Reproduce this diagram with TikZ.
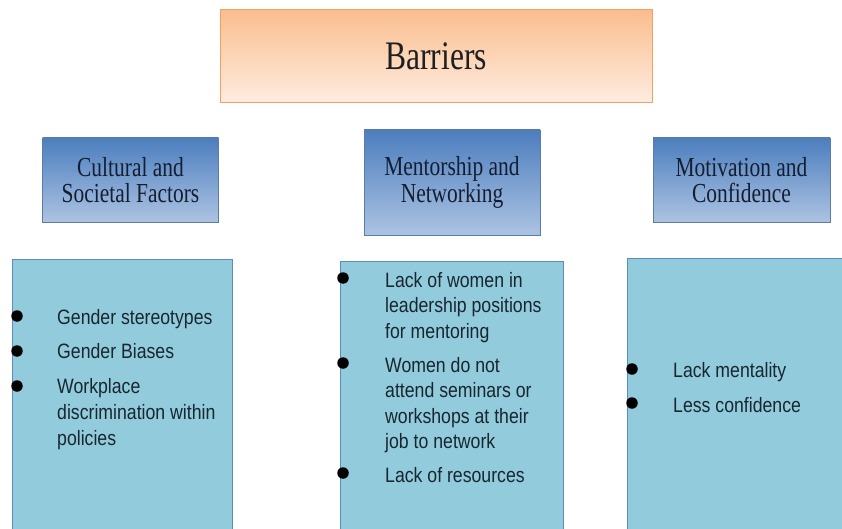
\documentclass[tikz,border=0pt]{standalone}
\usepackage{fontspec}
\setmainfont[FakeStretch=0.78]{Liberation Serif}
\newfontfamily\itemfont[FakeStretch=0.85]{Liberation Sans}

\definecolor{orTop}{RGB}{250,190,142}
\definecolor{orBot}{RGB}{254,236,224}
\definecolor{orLine}{RGB}{242,160,100}
\definecolor{blTop}{RGB}{76,126,190}
\definecolor{blBot}{RGB}{172,195,226}
\definecolor{blLine}{RGB}{92,124,165}
\definecolor{tealFill}{RGB}{146,204,220}
\definecolor{tealLine}{RGB}{92,140,190}
\definecolor{hdText}{RGB}{20,30,50}
\definecolor{itText}{RGB}{24,38,48}

\begin{document}
\begin{tikzpicture}[x=1pt,y=-1pt,
  titlebox/.style={rectangle, draw=orLine, line width=1pt, top color=orTop, bottom color=orBot,
    minimum width=432pt, minimum height=93pt, inner sep=0pt,
    font=\fontsize{40.5}{44}\selectfont, text=black!88},
  headbox/.style={rectangle, draw=blLine, line width=0.9pt, top color=blTop, bottom color=blBot,
    inner sep=0pt, align=center, text=hdText,
    font=\fontsize{27.5}{26.5}\selectfont},
  listbox/.style={rectangle, draw=tealLine, line width=0.9pt, fill=tealFill, inner sep=0pt},
  itemline/.style={anchor=base west, inner sep=0pt, text=itText,
    font=\itemfont\fontsize{20.8}{24}\selectfont},
  dot/.style={circle, fill=black, inner sep=0pt, minimum size=11.5pt}]

\useasboundingbox (0,0) rectangle (842,529);
\fill[white] (0,0) rectangle (842,529);

% title
\node[titlebox] (title) at (436,56.5) {Barriers};

% category headers
\node[headbox, minimum width=176pt, minimum height=84pt] (cult) at (130.5,180)
  {Cultural and\\Societal Factors};
\node[headbox, minimum width=176pt, minimum height=105pt] (ment) at (452,182.5)
  {Mentorship and\\Networking};
\node[headbox, minimum width=177pt, minimum height=84pt] (moti) at (741.5,180)
  {Motivation and\\Confidence};

% list panels (running off the page edge)
\node[listbox, minimum width=220pt, minimum height=285pt, anchor=north west] (lcult) at (12,259) {};
\node[listbox, minimum width=223pt, minimum height=285pt, anchor=north west] (lment) at (340,261) {};
\node[listbox, minimum width=225pt, minimum height=285pt, anchor=north west] (lmoti) at (627,258) {};

% cultural and societal factors
\node[dot] (c1) at (17,316) {};
\node[dot] (c2) at (17,351) {};
\node[dot] (c3) at (17,386) {};
\node[itemline] (c1a) at (57,324) {Gender stereotypes};
\node[itemline] (c2a) at (57,358) {Gender Biases};
\node[itemline] (c3a) at (57,393) {Workplace};
\node[itemline] (c3b) at (57,419.5) {discrimination within};
\node[itemline] (c3c) at (57,445.5) {policies};

% mentorship and networking
\node[dot] (m1) at (343,278) {};
\node[dot] (m2) at (343,363) {};
\node[dot] (m3) at (343,473) {};
\node[itemline] (m1a) at (385,287) {Lack of women in};
\node[itemline] (m1b) at (385,312.5) {leadership positions};
\node[itemline] (m1c) at (385,338) {for mentoring};
\node[itemline] (m2a) at (385,372) {Women do not};
\node[itemline] (m2b) at (385,397.5) {attend seminars or};
\node[itemline] (m2c) at (385,423) {workshops at their};
\node[itemline] (m2d) at (385,448.5) {job to network};
\node[itemline] (m3a) at (385,482) {Lack of resources};

% motivation and confidence
\node[dot] (v1) at (632,369) {};
\node[dot] (v2) at (632,403) {};
\node[itemline] (v1a) at (673,377) {Lack mentality};
\node[itemline] (v2a) at (673,412) {Less confidence};

\end{tikzpicture}
\end{document}
